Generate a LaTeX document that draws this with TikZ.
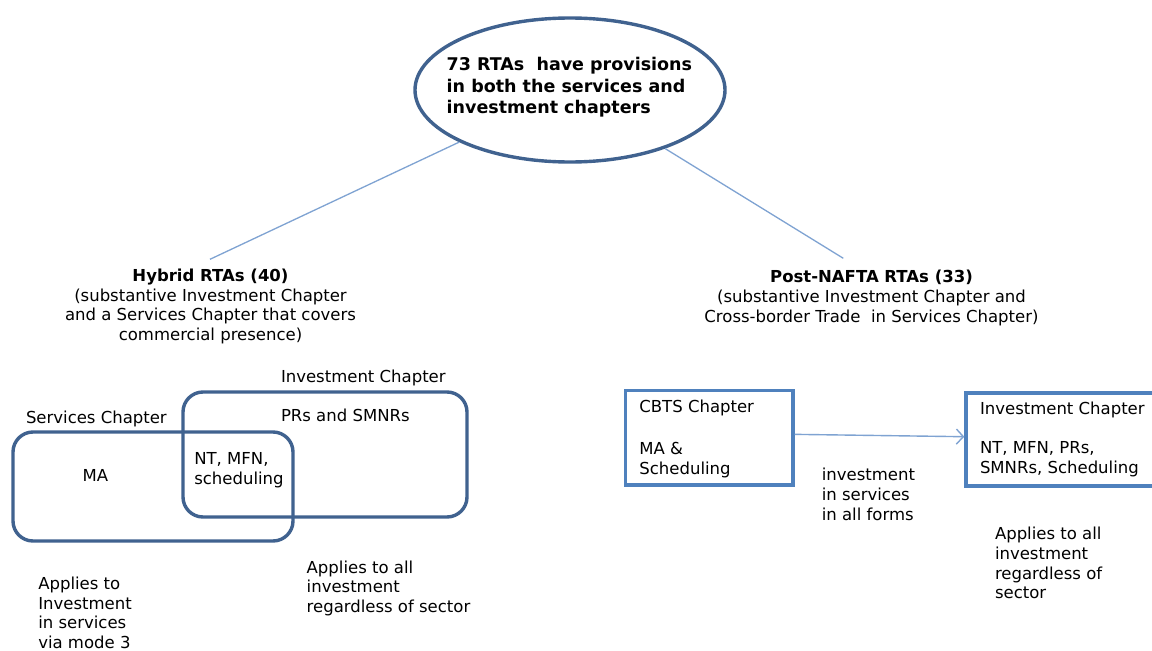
\documentclass[tikz,border=0pt]{standalone}
\usepackage{fontspec}
\setmainfont{DejaVu Sans}
\usetikzlibrary{arrows.meta,shapes.geometric}
\definecolor{darkedge}{HTML}{40628F}
\definecolor{boxedge}{HTML}{4F81BD}
\definecolor{linkcol}{HTML}{7FA3D2}
\tikzset{
  txt/.style={inner sep=0pt, outer sep=0pt, anchor=base west, align=left,
    font=\fontsize{16.5}{19.6}\selectfont, text=black},
  ctxt/.style={txt, anchor=base, align=center},
  roundbox/.style={draw=darkedge, line width=3.4pt, rounded corners=20pt, inner sep=0pt},
  sqbox/.style={draw=boxedge, line width=3.3pt, inner sep=0pt},
  link/.style={draw=linkcol, line width=1.3pt},
}
\begin{document}
\begin{tikzpicture}[x=1pt,y=-1pt]
\useasboundingbox (0,0) rectangle (1152,651);
\clip (0,0) rectangle (1152,651);
\fill[white] (0,0) rectangle (1152,651);

% top ellipse (multi-line text nodes: base anchor = baseline of last line)
\node[ellipse, draw=darkedge, line width=3.4pt, minimum width=310pt, minimum height=144pt, inner sep=0pt] (top) at (570,90) {};
\node[txt, font=\fontsize{17.5}{21.3}\selectfont\bfseries] (toptext) at (446.7,113.3)
  {73 RTAs\ \ have provisions\\in both the services and\\investment chapters};

% branch headings
\node[ctxt] (hyb) at (210.5,340.2)
  {\textbf{Hybrid RTAs (40)}\\(substantive Investment Chapter\\and a Services Chapter that covers\\commercial presence)};
\node[ctxt] (post) at (871.5,322)
  {\textbf{Post-NAFTA RTAs (33)}\\(substantive Investment Chapter and\\Cross-border Trade\ \ in Services Chapter)};

\coordinate (hybend) at (210,259.3);
\coordinate (postend) at (843.3,258.3);
\draw[link] (top) -- (hybend);
\draw[link] (top) -- (postend);

% left overlapping chapters
\node[roundbox, minimum width=280pt, minimum height=109pt] (svc) at (153,486.5) {};
\node[roundbox, minimum width=284pt, minimum height=125pt] (inv) at (325,454.5) {};
\node[txt] (svclab) at (26,423.3) {Services Chapter};
\node[txt] (invlab) at (281,382.7) {Investment Chapter};
\node[txt] (prs) at (281,421.7) {PRs and SMNRs};
\node[txt] (ma) at (82.7,481.7) {MA};
\node[txt] (nt) at (194.3,484.4) {NT, MFN,\\scheduling};
\node[txt] (note1) at (38.3,648.3) {Applies to\\Investment\\in services\\via mode 3};
\node[txt] (note2) at (306.7,612.4) {Applies to all\\investment\\regardless of sector};

% right boxes
\node[sqbox, minimum width=167.5pt, minimum height=94.5pt] (cbts) at (709.25,437.75) {};
\node[sqbox, minimum width=220pt, minimum height=93pt] (inv2) at (1076,439.5) {};
\node[txt] (cbtslab) at (639.4,412.9) {CBTS Chapter};
\node[txt] (cbtsma) at (639.4,474.1) {MA \&\\Scheduling};
\node[txt] (inv2lab) at (980,414.3) {Investment Chapter};
\node[txt] (inv2nt) at (980,473) {NT, MFN, PRs,\\SMNRs, Scheduling};
\draw[link, line width=1.4pt, -{Straight Barb[length=7pt,width=15pt,line width=1.4pt]}]
  ([yshift=3.4pt]cbts.east) -- ([yshift=2.8pt]inv2.west);
\node[txt] (forms) at (821.8,520) {investment\\in services\\in all forms};
\node[txt] (note3) at (995,598.6) {Applies to all\\investment\\regardless of\\sector};
\end{tikzpicture}
\end{document}
